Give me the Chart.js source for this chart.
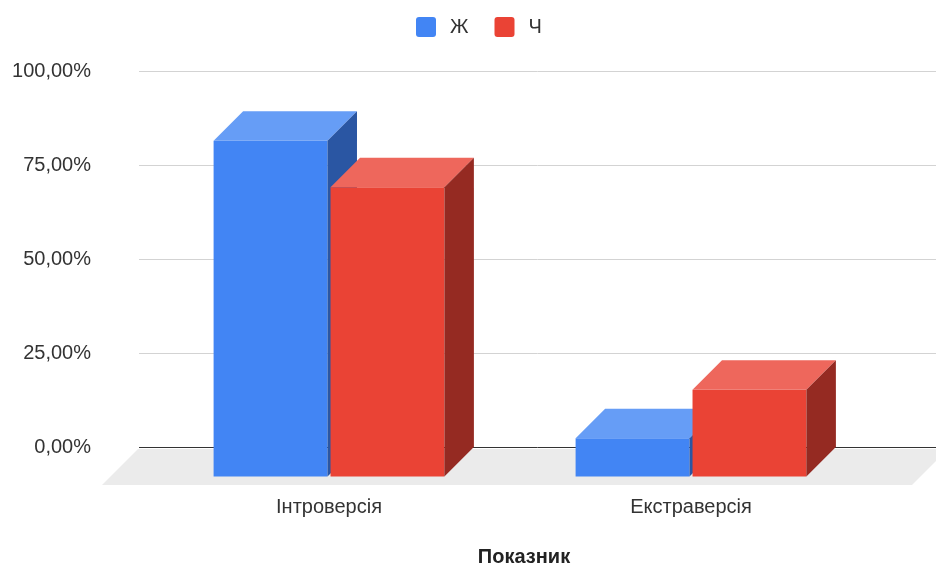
<!DOCTYPE html>
<html>
<head>
<meta charset="utf-8">
<script src="https://cdn.jsdelivr.net/npm/chart.js@4.4.1/dist/chart.umd.min.js"></script>
<style>
  html, body { margin: 0; padding: 0; background: #fff; }
</style>
</head>
<body>
<canvas id="chart" width="936" height="569"></canvas>
<script>
const categories = ['Інтроверсія', 'Екстраверсія'];
const seriesLabels = ['Ж', 'Ч'];
const womenPct = [89.3, 10.2];
const menPct = [76.9, 23.1];
const yTicks = [0, 25, 50, 75, 100];
const xTitle = 'Показник';

const FONT = '"Liberation Sans", Arial, sans-serif';
const DEPTH = 29.5;   // how far the front of a box sits from the back wall
const shade = {
  '#4285f4': {top: '#669df6', side: '#2a56a3'},
  '#ea4335': {top: '#ee675c', side: '#952a22'}
};
const fmt = v => v.toFixed(2).replace('.', ',') + '%';

function poly(ctx, pts, color){
  ctx.fillStyle = color;
  ctx.beginPath();
  pts.forEach(([px, py], i) => i ? ctx.lineTo(px, py) : ctx.moveTo(px, py));
  ctx.closePath();
  ctx.fill();
}

const bars3d = {
  id: 'bars3d',
  beforeDatasetsDraw(chart){
    const {ctx, scales: {y}} = chart;
    const z = Math.round(y.getPixelForValue(0));
    ctx.save();
    // floor
    poly(ctx, [[138, z + 2], [chart.width + 12, z + 2], [chart.width - 24, z + 38], [102, z + 38]], '#ebebeb');
    // grid on the back wall runs wider than the plot area
    y.ticks.forEach(t => {
      const py = Math.round(y.getPixelForValue(t.value)) + 0.5;
      ctx.strokeStyle = t.value === 0 ? '#333' : '#d3d3d3';
      ctx.lineWidth = 1;
      ctx.beginPath(); ctx.moveTo(139, py); ctx.lineTo(chart.width, py); ctx.stroke();
    });
    ctx.restore();
  },
  // bars are drawn below, series by series, so the later series covers the earlier sides
  beforeDatasetDraw(){ return false; },
  afterDatasetsDraw(chart){
    const ctx = chart.ctx;
    chart.data.datasets.forEach((ds, i) => {
      const meta = chart.getDatasetMeta(i);
      ctx.save();
      ctx.translate(-DEPTH, DEPTH);
      meta.controller.draw();
      ctx.restore();
      const c = shade[ds.backgroundColor];
      meta.data.forEach(bar => {
        const {x, y, base, width} = bar.getProps(['x', 'y', 'base', 'width'], true);
        const l = x - width / 2 - DEPTH, r = x + width / 2 - DEPTH, top = y + DEPTH;
        poly(ctx, [[l, top], [r, top], [r + DEPTH, y], [l + DEPTH, y]], c.top);
        poly(ctx, [[r, top], [r + DEPTH, y], [r + DEPTH, base], [r, base + DEPTH]], c.side);
      });
    });
  },
  afterDraw(chart){
    const ctx = chart.ctx;
    ctx.save();
    // legend
    const boxX = [416, 494.5];
    ctx.font = '20px ' + FONT;
    ctx.textBaseline = 'middle';
    ctx.textAlign = 'left';
    chart.data.datasets.forEach((ds, i) => {
      ctx.fillStyle = ds.backgroundColor;
      ctx.beginPath(); ctx.roundRect(boxX[i], 17, 20, 20, 3); ctx.fill();
      ctx.fillStyle = '#333';
      ctx.fillText(ds.label, boxX[i] + 34, 27);
    });
    // axis title
    ctx.font = 'bold 20px ' + FONT;
    ctx.fillStyle = '#222';
    ctx.textAlign = 'center';
    ctx.fillText(xTitle, 524, 557);
    ctx.restore();
  }
};

new Chart(document.getElementById('chart'), {
  type: 'bar',
  data: {
    labels: categories,
    datasets: [
      {label: seriesLabels[0], data: womenPct, backgroundColor: '#4285f4'},
      {label: seriesLabels[1], data: menPct, backgroundColor: '#ea4335'}
    ]
  },
  options: {
    responsive: false,
    animation: false,
    devicePixelRatio: 1,
    datasets: {bar: {categoryPercentage: 0.646, barPercentage: 0.974, borderWidth: 0, clip: false}},
    layout: {padding: {top: 71, right: 34.5, bottom: 0, left: 0}},
    plugins: {legend: {display: false}, tooltip: {enabled: false}},
    scales: {
      x: {
        grid: {display: false, drawTicks: false},
        border: {display: false},
        ticks: {labelOffset: -DEPTH, padding: 48, color: '#333', font: {family: FONT, size: 20}},
        afterFit: s => { s.height = 122; s.paddingLeft = 0; s.paddingRight = 0; }
      },
      y: {
        min: 0, max: 100,
        grid: {display: false, drawTicks: false},
        border: {display: false},
        afterBuildTicks: s => { s.ticks = yTicks.map(v => ({value: v})); },
        ticks: {padding: 86.5, color: '#333', font: {family: FONT, size: 20}, callback: v => fmt(v)},
        // the wide label gap must not push the plot area down
        afterFit: s => { s.width = 177.5; s.paddingTop = 0; s.paddingBottom = 0; }
      }
    }
  },
  plugins: [bars3d]
});
</script>
</body>
</html>
